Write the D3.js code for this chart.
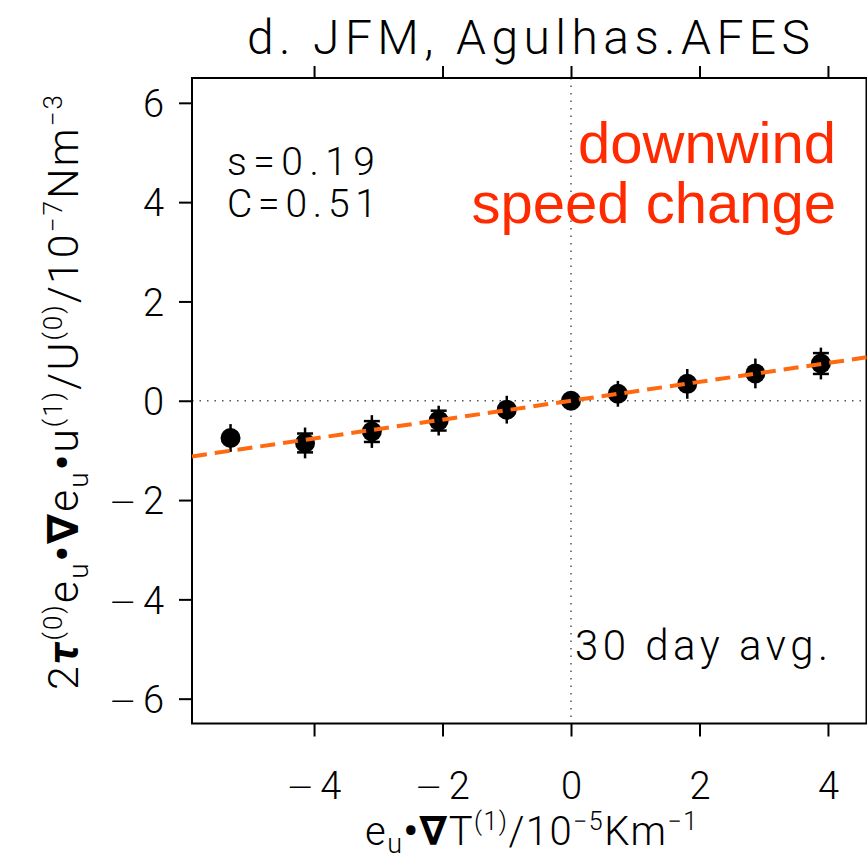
<!DOCTYPE html>
<html><head><meta charset="utf-8">
<script src="https://cdn.jsdelivr.net/npm/d3@7"></script>
<style>body{margin:0;background:#fff}svg{display:block}text{font-family:Roboto,"DejaVu Sans",sans-serif;font-weight:300}</style>
</head><body><svg id="c" width="867" height="864"></svg>
<script>
const xVals=[-5.30,-4.14,-3.10,-2.06,-1.00,0.00,0.73,1.81,2.87,3.89];
const yVals=[-0.75,-0.85,-0.62,-0.40,-0.18,0.00,0.14,0.34,0.55,0.75];
const yErr=[0.28,0.31,0.33,0.30,0.28,0.15,0.26,0.30,0.30,0.32];
const yErrInner=[0,0.19,0.21,0.20,0,0,0,0,0,0.21];
const xTicks=[-4,-2,0,2,4];
const yTicks=[-6,-4,-2,0,2,4,6];
const fitSlope=0.19, fitIntercept=0.0;
const titleText="d. JFM, Agulhas.AFES";

const svg=d3.select("#c");
const L=192,R=866.5,T=78,B=723.5;
const x=d3.scaleLinear().domain([-5.9,4.6]).range([L,R]);
const y=d3.scaleLinear().domain([-6.5,6.5]).range([B,T]);

// zero lines
svg.append("line").attr("x1",x(0)).attr("x2",x(0)).attr("y1",T).attr("y2",B)
 .attr("stroke","#555").attr("stroke-width",1.5).attr("stroke-dasharray","1.5,6");
svg.append("line").attr("x1",L).attr("x2",R).attr("y1",y(0)).attr("y2",y(0))
 .attr("stroke","#555").attr("stroke-width",1.5).attr("stroke-dasharray","1.5,6");

// axes
const gl=svg.append("g").attr("transform",`translate(${L},0)`)
 .call(d3.axisLeft(y).tickValues(yTicks).tickSize(13).tickPadding(15).tickFormat(String));
const gb=svg.append("g").attr("transform",`translate(0,${B})`)
 .call(d3.axisBottom(x).tickValues(xTicks).tickSize(13).tickPadding(36).tickFormat(String));
const gt=svg.append("g").attr("transform",`translate(0,${T})`)
 .call(d3.axisTop(x).tickValues(xTicks).tickSize(12).tickFormat(""));
[gl,gb,gt].forEach(g=>{g.select(".domain").remove();
 g.selectAll(".tick line").attr("stroke","#000").attr("stroke-width",2);
 g.selectAll(".tick text").attr("fill","#000").style("font-size","38px").style("font-family","Roboto,sans-serif").style("font-weight","300");});
gl.selectAll(".tick text").attr("dy","0.36em");
// rebuild negative labels with a long minus
[gl,gb].forEach(g=>g.selectAll(".tick text").each(function(d){
  if(d<0){const t=d3.select(this);t.text("");
    t.append("tspan").style("font-size","32px").text("\u2014");
    t.append("tspan").attr("dx",8).text(Math.abs(d));}
}));
svg.append("rect").attr("x",L).attr("y",T).attr("width",R-L).attr("height",B-T)
 .attr("fill","none").attr("stroke","#000").attr("stroke-width",2);

// error bars
const pts=xVals.map((v,i)=>({x:v,y:yVals[i],e:yErr[i],c:yErrInner[i]}));
svg.append("g").selectAll("line").data(pts).join("line")
 .attr("x1",d=>x(d.x)).attr("x2",d=>x(d.x)).attr("y1",d=>y(d.y-d.e)).attr("y2",d=>y(d.y+d.e))
 .attr("stroke","#000").attr("stroke-width",2.5);
const caps=pts.filter(d=>d.c>0).flatMap(d=>[{x:d.x,y:d.y+d.c},{x:d.x,y:d.y-d.c}]);
svg.append("g").selectAll("line").data(caps).join("line")
 .attr("x1",d=>x(d.x)-8).attr("x2",d=>x(d.x)+8).attr("y1",d=>y(d.y)).attr("y2",d=>y(d.y))
 .attr("stroke","#000").attr("stroke-width",2.5);
svg.append("g").selectAll("circle").data(pts).join("circle")
 .attr("cx",d=>x(d.x)).attr("cy",d=>y(d.y)).attr("r",10).attr("fill","#000");

// fit line
const xd=x.domain();
svg.append("line").attr("x1",x(xd[0])).attr("x2",x(xd[1]))
 .attr("y1",y(fitSlope*xd[0]+fitIntercept)).attr("y2",y(fitSlope*xd[1]+fitIntercept))
 .attr("stroke","#ff6a10").attr("stroke-width",4).attr("stroke-dasharray","15,8");

// title
svg.append("text").attr("x",247).attr("y",54).attr("textLength",563).attr("lengthAdjust","spacing")
 .style("font-size","48px").text(titleText);

// annotations
svg.append("text").attr("x",227).attr("y",175).attr("textLength",148).attr("lengthAdjust","spacing").style("font-size","39px").text("s=0.19");
svg.append("text").attr("x",227).attr("y",217).attr("textLength",150).attr("lengthAdjust","spacing").style("font-size","39px").text("C=0.51");
svg.append("text").attr("x",836).attr("y",163).attr("text-anchor","end").attr("fill","#ff2a00")
 .style("font-family","'Liberation Sans',Arial,sans-serif").style("font-weight","400").style("font-size","58px").text("downwind");
svg.append("text").attr("x",836).attr("y",223).attr("text-anchor","end").attr("fill","#ff2a00")
 .style("font-family","'Liberation Sans',Arial,sans-serif").style("font-weight","400").style("font-size","58px").text("speed change");
svg.append("text").attr("x",575).attr("y",660).attr("textLength",253).attr("lengthAdjust","spacing").style("font-size","42px").text("30 day avg.");

// x axis title
const xt=svg.append("text").attr("x",365).attr("y",845).attr("textLength",332).attr("lengthAdjust","spacing").style("font-size","40px");
xt.append("tspan").text("e");
xt.append("tspan").attr("dy",8).style("font-size","27px").text("u");
xt.append("tspan").attr("dy",-8).style("font-weight","700").text("•∇");
xt.append("tspan").text("T");
xt.append("tspan").attr("dy",-15).style("font-size","25px").text("(1)");
xt.append("tspan").attr("dy",15).text("/10");
xt.append("tspan").attr("dy",-15).style("font-size","25px").text("−5");
xt.append("tspan").attr("dy",15).text("Km");
xt.append("tspan").attr("dy",-15).style("font-size","25px").text("−1");

// y axis title
const yt=svg.append("text").attr("transform","translate(78,690) rotate(-90)").attr("textLength",595).attr("lengthAdjust","spacing").style("font-size","43px");
yt.append("tspan").text("2");
yt.append("tspan").style("font-weight","700").style("font-style","italic").text("τ");
yt.append("tspan").attr("dy",-16).style("font-size","26px").text("(0)");
yt.append("tspan").attr("dy",16).text("e");
yt.append("tspan").attr("dy",10).style("font-size","28px").text("u");
yt.append("tspan").attr("dy",-10).style("font-weight","700").text("•∇");
yt.append("tspan").text("e");
yt.append("tspan").attr("dy",10).style("font-size","28px").text("u");
yt.append("tspan").attr("dy",-10).style("font-weight","700").text("•");
yt.append("tspan").text("u");
yt.append("tspan").attr("dy",-16).style("font-size","26px").text("(1)");
yt.append("tspan").attr("dy",16).text("/U");
yt.append("tspan").attr("dy",-16).style("font-size","26px").text("(0)");
yt.append("tspan").attr("dy",16).text("/10");
yt.append("tspan").attr("dy",-16).style("font-size","26px").text("−7");
yt.append("tspan").attr("dy",16).text("Nm");
yt.append("tspan").attr("dy",-16).style("font-size","26px").text("−3");
</script></body></html>
